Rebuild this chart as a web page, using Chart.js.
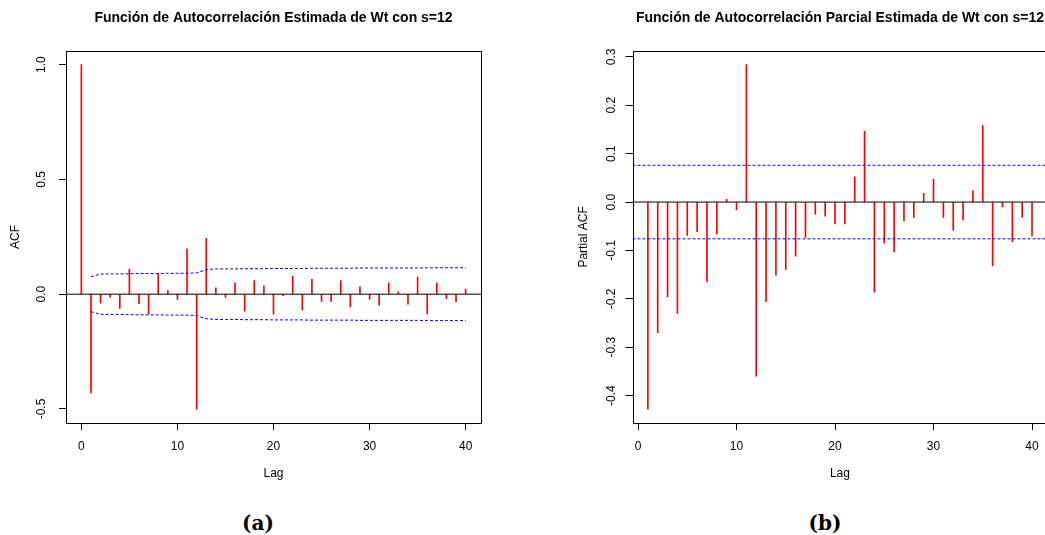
<!DOCTYPE html>
<html>
<head>
<meta charset="utf-8">
<title>ACF / PACF de Wt</title>
<script src="https://cdn.jsdelivr.net/npm/chart.js@4.4.1/dist/chart.umd.min.js"></script>
<style>
  html, body { margin: 0; padding: 0; background: #fff; }
  body { width: 1045px; height: 535px; overflow: hidden; position: relative; }
  .panel { position: absolute; top: 0; height: 490px; }
  #panelA { left: 0; width: 520px; }
  #panelB { left: 560px; width: 560px; }
  .tag {
    position: absolute;
    font-family: "DejaVu Serif", serif;
    font-weight: bold;
    font-size: 20px;
    transform: translate(-50%, -50%);
  }
</style>
</head>
<body>
<div class="panel" id="panelA"><canvas id="acfChart"></canvas></div>
<div class="panel" id="panelB"><canvas id="pacfChart"></canvas></div>
<div class="tag" style="left:258px; top:523px;">(a)</div>
<div class="tag" style="left:825px; top:523px;">(b)</div>

<script>
// ---- data ----
const acfLags = [0, 1, 2, 3, 4, 5, 6, 7, 8, 9, 10, 11, 12, 13, 14, 15, 16, 17, 18, 19, 20,
  21, 22, 23, 24, 25, 26, 27, 28, 29, 30, 31, 32, 33, 34, 35, 36, 37, 38, 39, 40];
const acfValues = [1.0, -0.43, -0.039, -0.013, -0.062, 0.109, -0.041, -0.086, 0.091, 0.016, -0.023,
  0.197, -0.501, 0.243, 0.028, -0.014, 0.049, -0.074, 0.059, 0.036, -0.087,
  -0.006, 0.078, -0.068, 0.065, -0.032, -0.032, 0.059, -0.055, 0.032, -0.022,
  -0.049, 0.048, 0.010, -0.043, 0.075, -0.086, 0.048, -0.019, -0.033, 0.022];
// MA-type confidence limit (lags 1..40), drawn as +/-
const acfBand = [0.076, 0.088, 0.088, 0.088, 0.089, 0.090, 0.090, 0.090, 0.091, 0.091,
  0.091, 0.093, 0.107, 0.110, 0.110, 0.110, 0.111, 0.111, 0.111, 0.112,
  0.112, 0.112, 0.112, 0.113, 0.113, 0.113, 0.113, 0.113, 0.114, 0.114,
  0.114, 0.114, 0.114, 0.114, 0.114, 0.115, 0.115, 0.115, 0.115, 0.115];

const pacfLags = acfLags.slice(1);
const pacfValues = [-0.428, -0.270, -0.196, -0.230, -0.069, -0.061, -0.165, -0.066, 0.0055, -0.0165,
  0.284, -0.360, -0.206, -0.151, -0.139, -0.112, -0.073, -0.025, -0.029, -0.045,
  -0.045, 0.052, 0.146, -0.186, -0.085, -0.103, -0.039, -0.032, 0.018, 0.047,
  -0.032, -0.058, -0.037, 0.023, 0.158, -0.132, -0.010, -0.082, -0.031, -0.070];
const pacfBand = 0.076;

const xTicks = [0, 10, 20, 30, 40];
const acfYTicks = [-0.5, 0, 0.5, 1.0];
const pacfYTicks = [-0.4, -0.3, -0.2, -0.1, 0, 0.1, 0.2, 0.3];
const acfXRange = [-1.6, 41.6];
const acfYRange = [-0.561, 1.06];
const pacfXRange = [-0.56, 41.56];
const pacfYRange = [-0.4565, 0.3125];

const FONT = '"Liberation Sans", Arial, Helvetica, sans-serif';
Chart.defaults.font.family = FONT;
Chart.defaults.color = '#000';

// R-style extras: box around plot, abline()s, rotated y tick labels
const rStyle = {
  id: 'rStyle',
  afterDatasetsDraw(chart, args, opts) {
    const { ctx, chartArea: a, scales: { y } } = chart;
    ctx.save();
    ctx.beginPath();
    ctx.rect(a.left, a.top, a.right - a.left, a.bottom - a.top);
    ctx.clip();
    (opts.hlines || []).forEach(h => {
      const py = y.getPixelForValue(h.value);
      ctx.strokeStyle = h.color;
      ctx.lineWidth = 1;
      ctx.setLineDash(h.dash || []);
      ctx.beginPath();
      ctx.moveTo(a.left, py);
      ctx.lineTo(a.right, py);
      ctx.stroke();
    });
    ctx.restore();
  },
  afterDraw(chart, args, opts) {
    const { ctx, chartArea: a, scales: { y } } = chart;
    ctx.save();
    ctx.strokeStyle = '#000';
    ctx.lineWidth = 1;
    ctx.strokeRect(Math.round(a.left) + 0.5, Math.round(a.top) + 0.5,
      Math.round(a.right - a.left), Math.round(a.bottom - a.top));
    ctx.fillStyle = '#000';
    ctx.font = '12px ' + FONT;
    ctx.textAlign = 'center';
    ctx.textBaseline = 'middle';
    y.ticks.forEach(t => {
      const py = y.getPixelForValue(t.value);
      ctx.save();
      ctx.translate(a.left - opts.labelOffset, py);
      ctx.rotate(-Math.PI / 2);
      ctx.fillText(t.value.toFixed(1), 0, 0);
      ctx.restore();
    });
    ctx.restore();
  }
};

function makeCorrChart(canvasId, cfg) {
  const datasets = [{
    type: 'bar',
    data: cfg.lags.map((l, i) => ({ x: l, y: cfg.values[i] })),
    backgroundColor: '#ff0000',
    barThickness: 1,
    order: 3
  }];
  (cfg.bands || []).forEach(b => datasets.push({
    type: 'line',
    data: b,
    borderColor: '#0000ff',
    borderWidth: 1,
    borderDash: [3, 2],
    pointRadius: 0,
    fill: false,
    tension: 0,
    order: 1
  }));

  return new Chart(document.getElementById(canvasId), {
    type: 'bar',
    data: { datasets },
    plugins: [rStyle],
    options: {
      responsive: true,
      maintainAspectRatio: false,
      animation: false,
      layout: { padding: { top: 0, left: 0, right: cfg.padRight, bottom: 0 } },
      plugins: {
        legend: { display: false },
        tooltip: { enabled: false },
        title: {
          display: true,
          text: cfg.title,
          fullSize: false,
          color: '#000',
          font: { size: 14, weight: 'bold' },
          padding: { top: 10, bottom: 24 }
        },
        rStyle: { hlines: cfg.hlines, labelOffset: cfg.labelOffset }
      },
      scales: {
        x: {
          type: 'linear',
          min: cfg.xRange[0],
          max: cfg.xRange[1],
          offset: false,
          afterBuildTicks: s => { s.ticks = xTicks.map(v => ({ value: v })); },
          afterFit: s => { s.height = 67; },
          grid: { drawOnChartArea: false, drawTicks: true, tickLength: 7, offset: false,
            color: '#000', tickColor: '#000' },
          border: { display: false },
          ticks: { color: '#000', font: { size: 12 }, padding: 9, maxRotation: 0, autoSkip: false },
          title: { display: true, text: 'Lag', color: '#000', font: { size: 12 },
            padding: { top: 0, bottom: 9 } }
        },
        y: {
          type: 'linear',
          min: cfg.yRange[0],
          max: cfg.yRange[1],
          afterBuildTicks: s => { s.ticks = cfg.yTicks.map(v => ({ value: v })); },
          afterFit: s => { s.width = cfg.yWidth; },
          grid: { drawOnChartArea: false, drawTicks: true, tickLength: 7,
            color: '#000', tickColor: '#000' },
          border: { display: false },
          ticks: { display: false },
          title: { display: true, text: cfg.yTitle, color: '#000', font: { size: 12 },
            padding: { top: cfg.yTitlePad, bottom: 0 } }
        }
      }
    }
  });
}

makeCorrChart('acfChart', {
  title: 'Función de Autocorrelación Estimada de Wt con s=12',
  lags: acfLags,
  values: acfValues,
  bands: [
    pacfLags.map((l, i) => ({ x: l, y: acfBand[i] })),
    pacfLags.map((l, i) => ({ x: l, y: -acfBand[i] }))
  ],
  hlines: [{ value: 0, color: '#000' }],
  xRange: acfXRange,
  yRange: acfYRange,
  yTicks: acfYTicks,
  yTitle: 'ACF',
  yWidth: 66,
  yTitlePad: 8,
  labelOffset: 24,
  padRight: 39
});

makeCorrChart('pacfChart', {
  title: 'Función de Autocorrelación Parcial Estimada de Wt con s=12',
  lags: pacfLags,
  values: pacfValues,
  bands: [],
  hlines: [
    { value: 0, color: '#000' },
    { value: pacfBand, color: '#0000ff', dash: [3, 2] },
    { value: -pacfBand, color: '#0000ff', dash: [3, 2] }
  ],
  xRange: pacfXRange,
  yRange: pacfYRange,
  yTicks: pacfYTicks,
  yTitle: 'Partial ACF',
  yWidth: 72.5,
  yTitlePad: 16,
  labelOffset: 21,
  padRight: 72.6
});
</script>
</body>
</html>
